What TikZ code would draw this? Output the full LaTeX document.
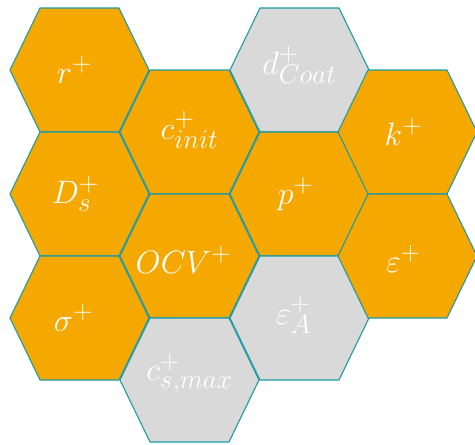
\documentclass[tikz,border=0pt]{standalone}
\usepackage{graphicx}
\definecolor{hexorange}{HTML}{F5A800}
\definecolor{hexgrey}{HTML}{D9D9D9}
\definecolor{hexedge}{HTML}{1F9AA6}
\tikzset{
  hexcell/.style={draw=hexedge, line width=1.1pt, line join=miter},
  orangecell/.style={hexcell, fill=hexorange},
  greycell/.style={hexcell, fill=hexgrey},
  hexlabel/.style={text=white, font=\Huge, inner sep=0pt},
}
\newcommand\hexat[2]{%
  \path[#2] (#1) +(-69.5,0) -- +(-39.5,-62) -- +(39.5,-62) -- +(69.5,0)
    -- +(39.5,62) -- +(-39.5,62) -- cycle;}
\newcommand\hexmath[1]{\scalebox{1.3}{$#1$}}
\begin{document}
\begin{tikzpicture}[x=1pt,y=-1pt]
\useasboundingbox (0,0) rectangle (475,445);
% centres
\coordinate (cr)    at (79.5,70);
\coordinate (cD)    at (79.5,194);
\coordinate (csig)  at (79.5,318);
\coordinate (cci)   at (189.5,132);
\coordinate (cocv)  at (189.5,256);
\coordinate (ccs)   at (189.5,380);
\coordinate (cd)    at (299.5,70);
\coordinate (cp)    at (299.5,194);
\coordinate (ceA)   at (299.5,318);
\coordinate (ck)    at (407.5,132);
\coordinate (ceps)  at (407.5,256);
% cells
\hexat{cr}{orangecell}
\hexat{cD}{orangecell}
\hexat{csig}{orangecell}
\hexat{cci}{orangecell}
\hexat{cocv}{orangecell}
\hexat{ccs}{greycell}
\hexat{cd}{greycell}
\hexat{cp}{orangecell}
\hexat{ceA}{greycell}
\hexat{ck}{orangecell}
\hexat{ceps}{orangecell}
% labels
\node[hexlabel] (r)   at ([xshift=-5pt]cr)   {\hexmath{r^{+}}};
\node[hexlabel] (D)   at ([xshift=-4pt]cD)   {\hexmath{D^{+}_{s}}};
\node[hexlabel] (sig) at ([xshift=-6pt]csig) {\hexmath{\sigma^{+}}};
\node[hexlabel] (ci)  at ([yshift=2pt]cci)  {\hexmath{c^{+}_{init}}};
\node[hexlabel] (ocv) at ([xshift=-6pt,yshift=-4pt]cocv) {\hexmath{OCV^{+}}};
\node[hexlabel] (cs)  at ([yshift=6pt]ccs)  {\hexmath{c^{+}_{s,max}}};
\node[hexlabel] (d)   at ([yshift=5pt]cd)   {\hexmath{d^{+}_{Coat}}};
\node[hexlabel] (p)   at ([xshift=-4pt]cp)  {\hexmath{p^{+}}};
\node[hexlabel] (eA)  at ([xshift=-6pt,yshift=3pt]ceA) {\hexmath{\varepsilon^{+}_{A}}};
\node[hexlabel] (k)   at ([xshift=-4pt]ck)  {\hexmath{k^{+}}};
\node[hexlabel] (eps) at ([xshift=-4pt,yshift=-3pt]ceps) {\hexmath{\varepsilon^{+}}};
\end{tikzpicture}
\end{document}
